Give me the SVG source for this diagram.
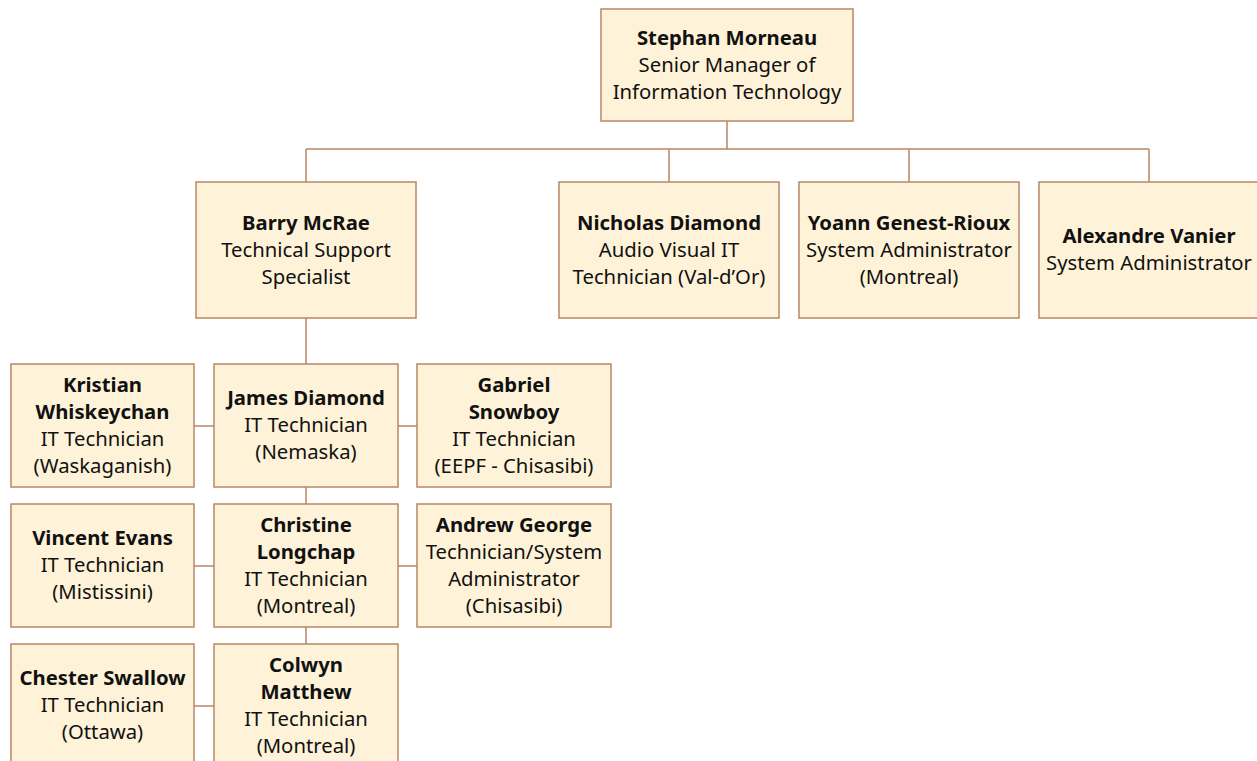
<svg xmlns="http://www.w3.org/2000/svg" width="1257" height="761" viewBox="0 0 1257 761">
<style>
.box{fill:#FEF3D8;stroke:#B98764;stroke-width:1.5}
.ln{fill:none;stroke:#B98764;stroke-width:1.5}
text{font-family:"Noto Sans","Open Sans",sans-serif;font-size:20.3px;fill:#111;text-anchor:middle}
.b{font-weight:bold}
</style>
<rect width="1257" height="761" fill="#fff"/>
<g id="connectors">
<path class="ln" d="M727 121V149M306 149H1149M306 149V182M669 149V182M909 149V182M1149 149V182M306 318V364M306 487V504M306 627V644M194 426H214M398 426H417M194 566H214M398 566H417M194 706H214"/>
</g>
<g id="stephan"><rect class="box" x="601" y="9" width="252" height="112"/>
<text x="727" y="44.5" class="b">Stephan Morneau</text><text x="727" y="71.5">Senior Manager of</text><text x="727" y="98.5">Information Technology</text></g>
<g id="barry"><rect class="box" x="196" y="182" width="220" height="136"/>
<text x="306" y="229.5" class="b">Barry McRae</text><text x="306" y="256.5">Technical Support</text><text x="306" y="283.5">Specialist</text></g>
<g id="nicholas"><rect class="box" x="559" y="182" width="220" height="136"/>
<text x="669" y="229.5" class="b">Nicholas Diamond</text><text x="669" y="256.5">Audio Visual IT</text><text x="669" y="283.5">Technician (Val-d’Or)</text></g>
<g id="yoann"><rect class="box" x="799" y="182" width="220" height="136"/>
<text x="909" y="229.5" class="b">Yoann Genest-Rioux</text><text x="909" y="256.5">System Administrator</text><text x="909" y="283.5">(Montreal)</text></g>
<g id="alexandre"><rect class="box" x="1039" y="182" width="220" height="136"/>
<text x="1149" y="243" class="b">Alexandre Vanier</text><text x="1149" y="270">System Administrator</text></g>
<g id="kristian"><rect class="box" x="11" y="364" width="183" height="123"/>
<text x="102.5" y="391.5" class="b">Kristian</text><text x="102.5" y="418.5" class="b">Whiskeychan</text><text x="102.5" y="445.5">IT Technician</text><text x="102.5" y="472.5">(Waskaganish)</text></g>
<g id="james"><rect class="box" x="214" y="364" width="184" height="123"/>
<text x="306" y="405" class="b">James Diamond</text><text x="306" y="432">IT Technician</text><text x="306" y="459">(Nemaska)</text></g>
<g id="gabriel"><rect class="box" x="417" y="364" width="194" height="123"/>
<text x="514" y="391.5" class="b">Gabriel</text><text x="514" y="418.5" class="b">Snowboy</text><text x="514" y="445.5">IT Technician</text><text x="514" y="472.5">(EEPF - Chisasibi)</text></g>
<g id="vincent"><rect class="box" x="11" y="504" width="183" height="123"/>
<text x="102.5" y="545" class="b">Vincent Evans</text><text x="102.5" y="572">IT Technician</text><text x="102.5" y="599">(Mistissini)</text></g>
<g id="christine"><rect class="box" x="214" y="504" width="184" height="123"/>
<text x="306" y="531.5" class="b">Christine</text><text x="306" y="558.5" class="b">Longchap</text><text x="306" y="585.5">IT Technician</text><text x="306" y="612.5">(Montreal)</text></g>
<g id="andrew"><rect class="box" x="417" y="504" width="194" height="123"/>
<text x="514" y="531.5" class="b">Andrew George</text><text x="514" y="558.5">Technician/System</text><text x="514" y="585.5">Administrator</text><text x="514" y="612.5">(Chisasibi)</text></g>
<g id="chester"><rect class="box" x="11" y="644" width="183" height="123"/>
<text x="102.5" y="685" class="b">Chester Swallow</text><text x="102.5" y="712">IT Technician</text><text x="102.5" y="739">(Ottawa)</text></g>
<g id="colwyn"><rect class="box" x="214" y="644" width="184" height="123"/>
<text x="306" y="671.5" class="b">Colwyn</text><text x="306" y="698.5" class="b">Matthew</text><text x="306" y="725.5">IT Technician</text><text x="306" y="752.5">(Montreal)</text></g>
</svg>
